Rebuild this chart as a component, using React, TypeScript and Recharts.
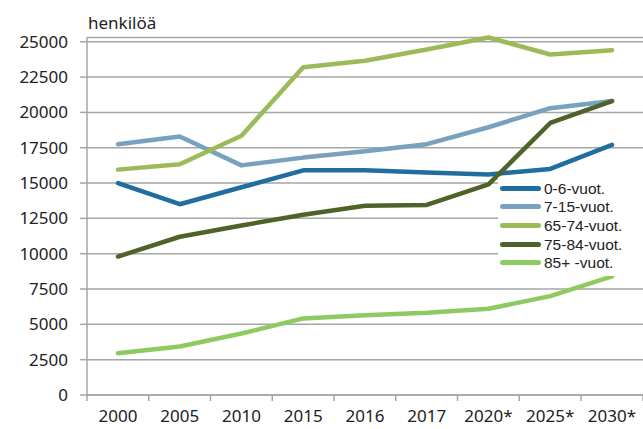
import { LineChart, Line, XAxis, YAxis, CartesianGrid, Legend } from "recharts";

const categories = ["2000", "2005", "2010", "2015", "2016", "2017", "2020*", "2025*", "2030*"];
const age0to6 = [15000, 13500, 14700, 15900, 15900, 15750, 15600, 16000, 17700];
const age7to15 = [17750, 18300, 16250, 16800, 17250, 17750, 18950, 20300, 20800];
const age65to74 = [15950, 16330, 18350, 23200, 23650, 24450, 25300, 24100, 24400];
const age75to84 = [9800, 11200, 12000, 12750, 13400, 13450, 14900, 19250, 20800];
const age85plus = [2950, 3430, 4350, 5420, 5650, 5820, 6100, 7000, 8400];
const yTicks = [0, 2500, 5000, 7500, 10000, 12500, 15000, 17500, 20000, 22500, 25000];

const seriesNames = ["0-6-vuot.", "7-15-vuot.", "65-74-vuot.", "75-84-vuot.", "85+ -vuot."];
const seriesColors = ["#1f6e9f", "#78a1c0", "#9bbb59", "#4f6228", "#8dca60"];

const data = categories.map((year, i) => ({
  year,
  s0: age0to6[i],
  s1: age7to15[i],
  s2: age65to74[i],
  s3: age75to84[i],
  s4: age85plus[i],
}));

const FONT = "'Noto Sans', sans-serif";
// tighter font for the legend rows, they sit only 18.5px apart
const LEGEND_FONT = "'Liberation Sans', Arial, sans-serif";
const GRID = "#a6a6a6";
const HALF_BAND = 31;

const XTick = (props: any) => {
  const { x, y, payload, index } = props;
  return (
    <g>
      <line x1={x - HALF_BAND} x2={x - HALF_BAND} y1={y} y2={y + 6} stroke={GRID} strokeWidth={1.5} />
      {index === categories.length - 1 && (
        <line x1={x + HALF_BAND} x2={x + HALF_BAND} y1={y} y2={y + 6} stroke={GRID} strokeWidth={1.5} />
      )}
      <text x={x} y={y + 27} textAnchor="middle" fill="#222" fontSize={17} fontFamily={FONT}>
        {payload.value}
      </text>
    </g>
  );
};

// legend payload comes back sorted, so put it back in series order
const renderLegend = (props: any) => {
  const items = [...(props.payload || [])].sort(
    (a: any, b: any) => seriesNames.indexOf(a.value) - seriesNames.indexOf(b.value)
  );
  return (
    <div style={{ background: "#fff", padding: "2px 0 4px 0" }}>
      {items.map((entry: any) => (
        <div key={entry.value} style={{ display: "flex", alignItems: "center", height: 18.6 }}>
          <div style={{ width: 41, height: 5, borderRadius: 3, background: entry.color, marginLeft: 2 }} />
          <div
            style={{
              marginLeft: 3,
              fontSize: 15.5,
              fontFamily: LEGEND_FONT,
              color: "#222",
              lineHeight: "17px",
              whiteSpace: "nowrap",
            }}
          >
            {entry.value}
          </div>
        </div>
      ))}
    </div>
  );
};

export default function App() {
  return (
    <div style={{ position: "absolute", left: 0, top: 0, width: 643, height: 429, background: "#fff" }}>
      <div
        style={{
          position: "absolute",
          left: 88,
          top: 13,
          fontSize: 17,
          lineHeight: "20px",
          fontFamily: FONT,
          color: "#222",
          zIndex: 2,
        }}
      >
        henkilöä
      </div>
      <LineChart width={643} height={429} data={data} margin={{ top: 37.5, right: 0, bottom: 4, left: 0 }}>
        <CartesianGrid vertical={false} stroke={GRID} strokeWidth={1.5} />
        <XAxis
          dataKey="year"
          height={30}
          padding={{ left: HALF_BAND, right: HALF_BAND }}
          tick={<XTick />}
          tickLine={false}
          tickSize={0}
          tickMargin={0}
          interval={0}
          axisLine={{ stroke: GRID, strokeWidth: 1.5 }}
        />
        <YAxis
          width={87}
          domain={[0, 25000]}
          ticks={yTicks}
          interval={0}
          tickSize={7}
          tickMargin={12}
          tick={{ fill: "#222", fontSize: 17, fontFamily: FONT }}
          tickLine={{ stroke: GRID, strokeWidth: 1.5 }}
          axisLine={{ stroke: GRID, strokeWidth: 1.5 }}
        />
        <Legend
          layout="vertical"
          align="center"
          verticalAlign="middle"
          content={renderLegend}
          wrapperStyle={{ left: 498, top: 177, width: 145, height: "auto" }}
        />
        {seriesNames.map((name, i) => (
          <Line
            key={name}
            type="linear"
            dataKey={`s${i}`}
            name={name}
            stroke={seriesColors[i]}
            strokeWidth={4.5}
            strokeLinecap="round"
            strokeLinejoin="round"
            dot={false}
            activeDot={false}
            isAnimationActive={false}
          />
        ))}
      </LineChart>
    </div>
  );
}
